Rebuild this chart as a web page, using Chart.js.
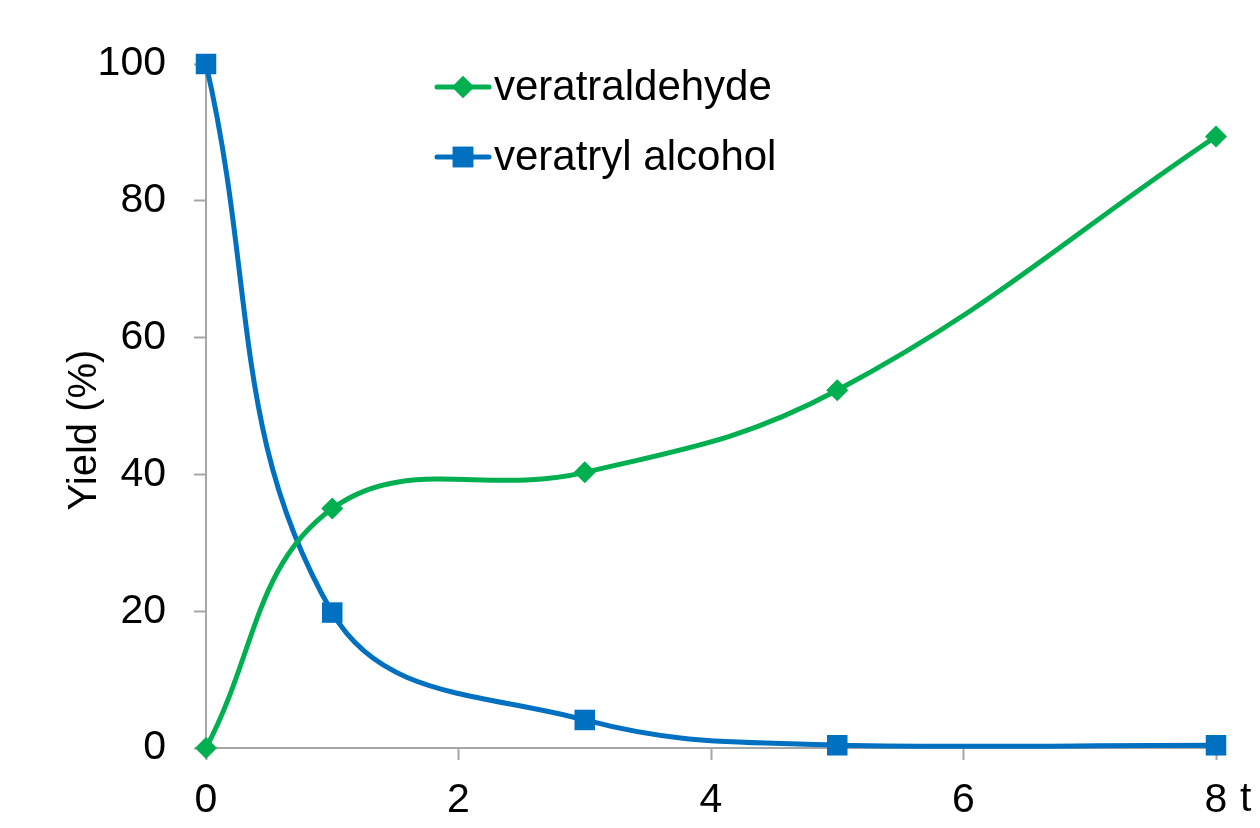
<!DOCTYPE html>
<html>
<head>
<meta charset="utf-8">
<script src="https://cdn.jsdelivr.net/npm/chart.js@4/dist/chart.umd.min.js"></script>
<style>
  html, body { margin: 0; padding: 0; background: #fff; }
  #wrap { width: 1260px; height: 828px; }
</style>
</head>
<body>
<div id="wrap"><canvas id="myChart" width="1260" height="828"></canvas></div>
<script>
// time values and yields
const times = [0, 1, 3, 5, 8];
const aldehyde = [0, 35, 40.3, 52.3, 89.4];
const alcohol = [100, 19.8, 4.1, 0.4, 0.4];
const xTicks = [0, 2, 4, 6, 8];
const yTicks = [0, 20, 40, 60, 80, 100];

const green = '#00b050';
const blue = '#0070c0';
const fontFam = '"Liberation Sans", Arial, sans-serif';

const toPts = (xs, ys) => xs.map((x, i) => ({ x: x, y: ys[i] }));

// legend + y title + "t" drawn by hand
const extras = {
  id: 'extras',
  afterDraw(chart) {
    const ctx = chart.ctx;
    ctx.save();
    ctx.fillStyle = '#000';
    ctx.font = '40px ' + fontFam;

    // y axis title
    ctx.save();
    ctx.translate(85, 430);
    ctx.rotate(-Math.PI / 2);
    ctx.textAlign = 'center';
    ctx.textBaseline = 'middle';
    ctx.fillText('Yield (%)', 0, 0);
    ctx.restore();

    // x axis unit label
    ctx.font = '41px ' + fontFam;
    ctx.textAlign = 'left';
    ctx.textBaseline = 'middle';
    ctx.fillText('t', 1240, 800);

    // legend
    ctx.font = '42px ' + fontFam;
    const rows = [
      { ds: chart.data.datasets[0], y: 87 },
      { ds: chart.data.datasets[1], y: 157 }
    ];
    rows.forEach(r => {
      ctx.strokeStyle = r.ds.borderColor;
      ctx.lineWidth = 5;
      ctx.lineCap = 'round';
      ctx.beginPath();
      ctx.moveTo(437, r.y);
      ctx.lineTo(489, r.y);
      ctx.stroke();
      ctx.fillStyle = r.ds.pointBackgroundColor;
      Chart.helpers.drawPoint(ctx, { pointStyle: r.ds.pointStyle, radius: r.ds.pointRadius, rotation: 0, borderWidth: 0 }, 463, r.y);
      ctx.fill();
      ctx.fillStyle = '#000';
      ctx.textAlign = 'left';
      ctx.textBaseline = 'middle';
      ctx.fillText(r.ds.label, 494, r.y + 1);
    });
    ctx.restore();
  }
};

let canva = document.getElementById('myChart').getContext('2d');

let config = {
  type: 'line',
  data: {
    datasets: [{
      label: 'veratraldehyde',
      data: toPts(times, aldehyde),
      borderColor: green,
      backgroundColor: green,
      pointBackgroundColor: green,
      pointBorderWidth: 0,
      pointStyle: 'rectRot',
      pointRadius: 11,
      borderWidth: 5,
      tension: 0.4,
      clip: false
    }, {
      label: 'veratryl alcohol',
      data: toPts(times, alcohol),
      borderColor: blue,
      backgroundColor: blue,
      pointBackgroundColor: blue,
      pointBorderWidth: 0,
      pointStyle: 'rect',
      pointRadius: 14.5,
      borderWidth: 5,
      tension: 0.4,
      clip: false
    }]
  },
  options: {
    responsive: false,
    animation: false,
    layout: { padding: { top: 64, right: 44, left: 0, bottom: 0 } },
    plugins: { legend: { display: false }, tooltip: { enabled: false } },
    scales: {
      x: {
        type: 'linear',
        min: 0, max: 8,
        afterFit: s => { s.height = 80; },
        afterBuildTicks: s => { s.ticks = xTicks.map(v => ({ value: v })); },
        grid: { display: true, drawOnChartArea: false, drawTicks: true, tickLength: 12, tickColor: '#a6a6a6', tickWidth: 2 },
        border: { color: '#a6a6a6', width: 2 },
        ticks: { color: '#000', font: { family: fontFam, size: 41 }, padding: 16, maxRotation: 0 }
      },
      y: {
        min: 0, max: 100,
        afterFit: s => { s.width = 206; },
        afterBuildTicks: s => { s.ticks = yTicks.map(v => ({ value: v })); },
        grid: { display: true, drawOnChartArea: false, drawTicks: true, tickLength: 12, tickColor: '#a6a6a6', tickWidth: 2 },
        border: { color: '#a6a6a6', width: 2 },
        ticks: { color: '#000', font: { family: fontFam, size: 41 }, padding: 28 }
      }
    }
  },
  plugins: [extras]
};

window.grafica = new Chart(canva, config);
</script>
</body>
</html>
